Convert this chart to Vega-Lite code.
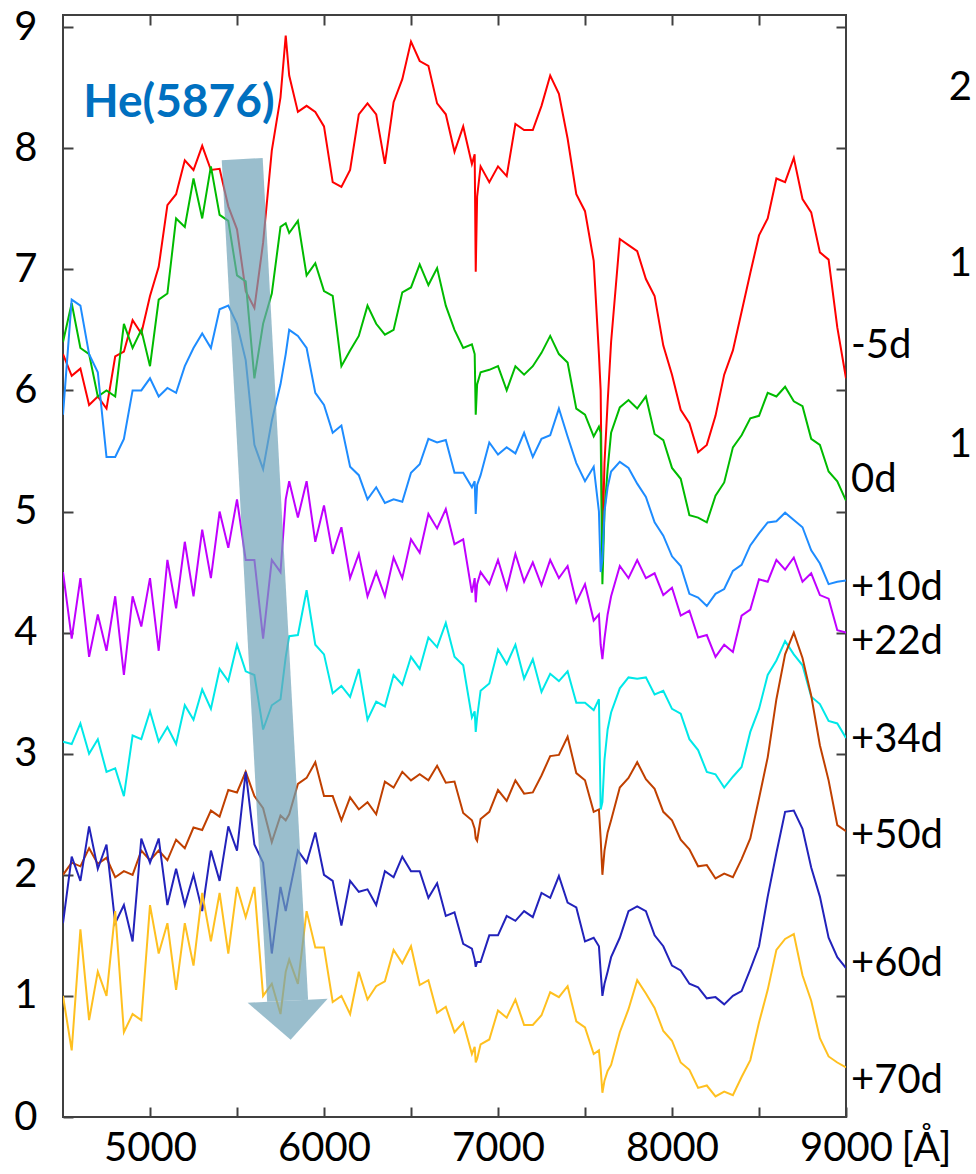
{
  "$schema": "https://vega.github.io/schema/vega-lite/v6.json",
  "width": 783,
  "height": 1102,
  "autosize": "none",
  "padding": {"left": 63, "top": 15, "right": 130, "bottom": 57},
  "background": "white",
  "config": {"view": {"stroke": "#404040", "strokeWidth": 2}, "font": "Lato"},
  "resolve": {"axis": {"x": "independent", "y": "independent"}},
  "datasets": {
    "spec": [
      {"w":4500,"m5":6.30,"d0":6.40,"p10":5.80,"p22":4.50,"p34":3.10,"p50":2.00,"p60":1.60,"p70":1.00},
      {"w":4550,"m5":6.12,"d0":6.72,"p10":6.75,"p22":3.95,"p34":3.08,"p50":2.10,"p60":2.15,"p70":0.55},
      {"w":4600,"m5":6.18,"d0":6.35,"p10":6.70,"p22":4.45,"p34":3.25,"p50":2.07,"p60":1.95,"p70":1.55},
      {"w":4650,"m5":5.88,"d0":6.30,"p10":6.30,"p22":3.80,"p34":3.00,"p50":2.22,"p60":2.40,"p70":0.80},
      {"w":4700,"m5":5.95,"d0":5.95,"p10":6.15,"p22":4.15,"p34":3.12,"p50":2.09,"p60":2.05,"p70":1.20},
      {"w":4750,"m5":5.85,"d0":6.00,"p10":5.45,"p22":3.85,"p34":2.85,"p50":2.14,"p60":2.25,"p70":1.00},
      {"w":4800,"m5":6.28,"d0":5.95,"p10":5.45,"p22":4.30,"p34":2.88,"p50":1.98,"p60":1.60,"p70":1.70},
      {"w":4850,"m5":6.32,"d0":6.55,"p10":5.60,"p22":3.65,"p34":2.65,"p50":2.03,"p60":1.75,"p70":0.70},
      {"w":4900,"m5":6.58,"d0":6.35,"p10":6.00,"p22":4.30,"p34":3.15,"p50":2.00,"p60":1.45,"p70":0.85},
      {"w":4950,"m5":6.47,"d0":6.50,"p10":6.00,"p22":4.05,"p34":3.12,"p50":2.20,"p60":2.30,"p70":0.80},
      {"w":5000,"m5":6.78,"d0":6.20,"p10":6.10,"p22":4.45,"p34":3.35,"p50":2.12,"p60":2.10,"p70":1.75},
      {"w":5050,"m5":7.02,"d0":6.75,"p10":5.95,"p22":3.85,"p34":3.10,"p50":2.20,"p60":2.30,"p70":1.35},
      {"w":5100,"m5":7.53,"d0":6.80,"p10":6.02,"p22":4.60,"p34":3.22,"p50":2.12,"p60":1.75,"p70":1.60},
      {"w":5150,"m5":7.62,"d0":7.42,"p10":5.98,"p22":4.20,"p34":3.08,"p50":2.29,"p60":2.05,"p70":1.05},
      {"w":5200,"m5":7.90,"d0":7.35,"p10":6.20,"p22":4.75,"p34":3.40,"p50":2.22,"p60":1.75,"p70":1.60},
      {"w":5250,"m5":7.82,"d0":7.75,"p10":6.35,"p22":4.30,"p34":3.28,"p50":2.39,"p60":2.00,"p70":1.25},
      {"w":5300,"m5":8.02,"d0":7.42,"p10":6.47,"p22":4.85,"p34":3.53,"p50":2.37,"p60":1.70,"p70":1.85},
      {"w":5350,"m5":7.82,"d0":7.85,"p10":6.35,"p22":4.45,"p34":3.37,"p50":2.53,"p60":2.20,"p70":1.45},
      {"w":5400,"m5":7.83,"d0":7.45,"p10":6.67,"p22":5.00,"p34":3.70,"p50":2.48,"p60":1.95,"p70":1.85},
      {"w":5450,"m5":7.52,"d0":7.40,"p10":6.70,"p22":4.70,"p34":3.60,"p50":2.70,"p60":2.40,"p70":1.35},
      {"w":5500,"m5":7.33,"d0":6.95,"p10":6.55,"p22":5.10,"p34":3.90,"p50":2.68,"p60":2.20,"p70":1.90},
      {"w":5550,"m5":6.82,"d0":6.90,"p10":6.25,"p22":4.60,"p34":3.68,"p50":2.85,"p60":2.85,"p70":1.65},
      {"w":5600,"m5":6.68,"d0":6.10,"p10":5.55,"p22":4.60,"p34":3.65,"p50":2.65,"p60":2.25,"p70":1.90},
      {"w":5650,"m5":7.22,"d0":6.55,"p10":5.35,"p22":3.95,"p34":3.20,"p50":2.55,"p60":2.10,"p70":1.00},
      {"w":5700,"m5":7.98,"d0":6.80,"p10":5.75,"p22":4.60,"p34":3.40,"p50":2.27,"p60":1.35,"p70":1.10},
      {"w":5750,"m5":8.42,"d0":7.35,"p10":6.05,"p22":4.50,"p34":3.45,"p50":2.49,"p60":1.90,"p70":0.85},
      {"w":5780,"m5":8.93,"d0":7.38,"p10":6.30,"p22":5.10,"p34":3.80,"p50":2.45,"p60":1.70,"p70":1.20},
      {"w":5800,"m5":8.60,"d0":7.30,"p10":6.50,"p22":5.25,"p34":3.97,"p50":2.50,"p60":1.85,"p70":1.30},
      {"w":5850,"m5":8.30,"d0":7.40,"p10":6.45,"p22":4.95,"p34":3.98,"p50":2.75,"p60":2.20,"p70":1.10},
      {"w":5900,"m5":8.35,"d0":6.95,"p10":6.35,"p22":5.25,"p34":4.35,"p50":2.80,"p60":2.10,"p70":1.70},
      {"w":5950,"m5":8.30,"d0":7.05,"p10":5.98,"p22":4.75,"p34":3.90,"p50":2.93,"p60":2.35,"p70":1.40},
      {"w":6000,"m5":8.18,"d0":6.82,"p10":5.88,"p22":5.05,"p34":3.82,"p50":2.65,"p60":2.00,"p70":1.40},
      {"w":6050,"m5":7.72,"d0":6.78,"p10":5.65,"p22":4.65,"p34":3.50,"p50":2.65,"p60":1.95,"p70":0.95},
      {"w":6100,"m5":7.68,"d0":6.20,"p10":5.71,"p22":4.87,"p34":3.56,"p50":2.45,"p60":1.58,"p70":1.00},
      {"w":6150,"m5":7.82,"d0":6.33,"p10":5.37,"p22":4.45,"p34":3.47,"p50":2.64,"p60":1.95,"p70":0.85},
      {"w":6200,"m5":8.28,"d0":6.45,"p10":5.30,"p22":4.65,"p34":3.70,"p50":2.54,"p60":1.86,"p70":1.20},
      {"w":6250,"m5":8.37,"d0":6.70,"p10":5.10,"p22":4.30,"p34":3.28,"p50":2.60,"p60":1.88,"p70":0.97},
      {"w":6300,"m5":8.28,"d0":6.55,"p10":5.20,"p22":4.50,"p34":3.43,"p50":2.50,"p60":1.75,"p70":1.08},
      {"w":6350,"m5":7.87,"d0":6.46,"p10":5.07,"p22":4.30,"p34":3.39,"p50":2.77,"p60":2.03,"p70":1.12},
      {"w":6400,"m5":8.38,"d0":6.50,"p10":5.10,"p22":4.62,"p34":3.65,"p50":2.72,"p60":1.98,"p70":1.38},
      {"w":6450,"m5":8.57,"d0":6.81,"p10":5.08,"p22":4.45,"p34":3.57,"p50":2.85,"p60":2.15,"p70":1.27},
      {"w":6500,"m5":8.88,"d0":6.85,"p10":5.32,"p22":4.77,"p34":3.80,"p50":2.78,"p60":2.03,"p70":1.41},
      {"w":6550,"m5":8.72,"d0":7.04,"p10":5.39,"p22":4.66,"p34":3.70,"p50":2.83,"p60":2.03,"p70":1.09},
      {"w":6600,"m5":8.68,"d0":6.87,"p10":5.60,"p22":4.98,"p34":3.96,"p50":2.78,"p60":1.81,"p70":1.13},
      {"w":6650,"m5":8.37,"d0":7.01,"p10":5.57,"p22":4.86,"p34":3.88,"p50":2.90,"p60":1.93,"p70":0.86},
      {"w":6700,"m5":8.28,"d0":6.70,"p10":5.59,"p22":5.02,"p34":4.08,"p50":2.76,"p60":1.66,"p70":0.91},
      {"w":6750,"m5":7.97,"d0":6.50,"p10":5.32,"p22":4.73,"p34":3.80,"p50":2.77,"p60":1.69,"p70":0.70},
      {"w":6800,"m5":8.18,"d0":6.35,"p10":5.32,"p22":4.77,"p34":3.73,"p50":2.51,"p60":1.43,"p70":0.78},
      {"w":6850,"m5":7.87,"d0":6.38,"p10":5.20,"p22":4.33,"p34":3.30,"p50":2.45,"p60":1.39,"p70":0.52},
      {"w":6866,"m5":7.95,"d0":6.30,"p10":5.25,"p22":4.45,"p34":3.35,"p50":2.38,"p60":1.30,"p70":0.58},
      {"w":6872,"m5":6.98,"d0":5.80,"p10":4.98,"p22":4.25,"p34":3.18,"p50":2.30,"p60":1.24,"p70":0.45},
      {"w":6880,"m5":7.60,"d0":6.05,"p10":5.22,"p22":4.40,"p34":3.30,"p50":2.28,"p60":1.28,"p70":0.48},
      {"w":6900,"m5":7.85,"d0":6.15,"p10":5.30,"p22":4.50,"p34":3.52,"p50":2.46,"p60":1.28,"p70":0.60},
      {"w":6950,"m5":7.72,"d0":6.17,"p10":5.57,"p22":4.40,"p34":3.58,"p50":2.52,"p60":1.50,"p70":0.64},
      {"w":7000,"m5":7.85,"d0":6.20,"p10":5.47,"p22":4.60,"p34":3.86,"p50":2.70,"p60":1.50,"p70":0.88},
      {"w":7050,"m5":7.77,"d0":6.00,"p10":5.53,"p22":4.36,"p34":3.74,"p50":2.61,"p60":1.66,"p70":0.82},
      {"w":7100,"m5":8.20,"d0":6.20,"p10":5.48,"p22":4.65,"p34":3.90,"p50":2.78,"p60":1.62,"p70":0.97},
      {"w":7150,"m5":8.15,"d0":6.13,"p10":5.65,"p22":4.42,"p34":3.62,"p50":2.67,"p60":1.70,"p70":0.76},
      {"w":7200,"m5":8.15,"d0":6.20,"p10":5.45,"p22":4.58,"p34":3.78,"p50":2.68,"p60":1.65,"p70":0.76},
      {"w":7250,"m5":8.35,"d0":6.31,"p10":5.60,"p22":4.39,"p34":3.51,"p50":2.82,"p60":1.85,"p70":0.84},
      {"w":7300,"m5":8.60,"d0":6.45,"p10":5.63,"p22":4.60,"p34":3.66,"p50":2.98,"p60":1.81,"p70":1.03},
      {"w":7350,"m5":8.45,"d0":6.30,"p10":5.85,"p22":4.45,"p34":3.60,"p50":2.99,"p60":1.99,"p70":0.99},
      {"w":7400,"m5":8.08,"d0":6.23,"p10":5.62,"p22":4.55,"p34":3.68,"p50":3.14,"p60":1.77,"p70":1.08},
      {"w":7450,"m5":7.62,"d0":5.85,"p10":5.40,"p22":4.25,"p34":3.42,"p50":2.84,"p60":1.73,"p70":0.79},
      {"w":7500,"m5":7.48,"d0":5.80,"p10":5.25,"p22":4.40,"p34":3.42,"p50":2.78,"p60":1.45,"p70":0.74},
      {"w":7550,"m5":7.07,"d0":5.62,"p10":5.37,"p22":4.10,"p34":3.36,"p50":2.52,"p60":1.48,"p70":0.52},
      {"w":7580,"m5":6.30,"d0":5.70,"p10":5.00,"p22":4.15,"p34":3.45,"p50":2.54,"p60":1.41,"p70":0.55},
      {"w":7590,"m5":6.00,"d0":5.65,"p10":4.50,"p22":3.90,"p34":2.54,"p50":2.30,"p60":1.20,"p70":0.40},
      {"w":7600,"m5":4.70,"d0":4.40,"p10":4.60,"p22":3.78,"p34":2.60,"p50":2.00,"p60":1.00,"p70":0.20},
      {"w":7612,"m5":5.40,"d0":5.00,"p10":5.00,"p22":3.95,"p34":2.95,"p50":2.20,"p60":1.10,"p70":0.30},
      {"w":7630,"m5":5.90,"d0":5.35,"p10":5.20,"p22":4.15,"p34":3.20,"p50":2.35,"p60":1.20,"p70":0.38},
      {"w":7650,"m5":6.40,"d0":5.65,"p10":5.33,"p22":4.30,"p34":3.34,"p50":2.45,"p60":1.32,"p70":0.43},
      {"w":7700,"m5":7.25,"d0":5.86,"p10":5.41,"p22":4.55,"p34":3.54,"p50":2.72,"p60":1.48,"p70":0.70},
      {"w":7750,"m5":7.20,"d0":5.92,"p10":5.36,"p22":4.45,"p34":3.63,"p50":2.80,"p60":1.70,"p70":0.89},
      {"w":7800,"m5":7.15,"d0":5.85,"p10":5.23,"p22":4.60,"p34":3.62,"p50":2.93,"p60":1.74,"p70":1.13},
      {"w":7850,"m5":6.92,"d0":5.95,"p10":5.12,"p22":4.45,"p34":3.63,"p50":2.79,"p60":1.70,"p70":1.02},
      {"w":7900,"m5":6.78,"d0":5.64,"p10":4.91,"p22":4.49,"p34":3.49,"p50":2.71,"p60":1.50,"p70":0.90},
      {"w":7950,"m5":6.37,"d0":5.59,"p10":4.80,"p22":4.31,"p34":3.52,"p50":2.52,"p60":1.41,"p70":0.71},
      {"w":8000,"m5":6.13,"d0":5.36,"p10":4.63,"p22":4.37,"p34":3.37,"p50":2.45,"p60":1.25,"p70":0.63},
      {"w":8050,"m5":5.84,"d0":5.27,"p10":4.55,"p22":4.14,"p34":3.33,"p50":2.29,"p60":1.21,"p70":0.45},
      {"w":8100,"m5":5.73,"d0":4.97,"p10":4.32,"p22":4.18,"p34":3.12,"p50":2.21,"p60":1.10,"p70":0.39},
      {"w":8150,"m5":5.49,"d0":4.95,"p10":4.29,"p22":3.96,"p34":3.03,"p50":2.07,"p60":1.07,"p70":0.24},
      {"w":8200,"m5":5.55,"d0":4.91,"p10":4.22,"p22":3.98,"p34":2.85,"p50":2.08,"p60":0.98,"p70":0.26},
      {"w":8250,"m5":5.79,"d0":5.13,"p10":4.32,"p22":3.80,"p34":2.83,"p50":1.97,"p60":0.99,"p70":0.17},
      {"w":8300,"m5":6.13,"d0":5.24,"p10":4.36,"p22":3.90,"p34":2.72,"p50":2.01,"p60":0.93,"p70":0.21},
      {"w":8350,"m5":6.33,"d0":5.53,"p10":4.51,"p22":3.84,"p34":2.81,"p50":1.98,"p60":1.00,"p70":0.18},
      {"w":8400,"m5":6.65,"d0":5.63,"p10":4.56,"p22":4.14,"p34":2.89,"p50":2.13,"p60":1.04,"p70":0.33},
      {"w":8450,"m5":6.97,"d0":5.77,"p10":4.72,"p22":4.19,"p34":3.18,"p50":2.30,"p60":1.22,"p70":0.47},
      {"w":8500,"m5":7.28,"d0":5.79,"p10":4.82,"p22":4.44,"p34":3.37,"p50":2.63,"p60":1.41,"p70":0.78},
      {"w":8550,"m5":7.42,"d0":5.98,"p10":4.91,"p22":4.42,"p34":3.65,"p50":2.97,"p60":1.82,"p70":1.05},
      {"w":8600,"m5":7.75,"d0":5.95,"p10":4.92,"p22":4.60,"p34":3.77,"p50":3.45,"p60":2.18,"p70":1.38},
      {"w":8650,"m5":7.72,"d0":6.03,"p10":4.99,"p22":4.52,"p34":3.93,"p50":3.82,"p60":2.52,"p70":1.47},
      {"w":8700,"m5":7.92,"d0":5.91,"p10":4.93,"p22":4.62,"p34":3.82,"p50":4.00,"p60":2.53,"p70":1.51},
      {"w":8750,"m5":7.58,"d0":5.87,"p10":4.87,"p22":4.42,"p34":3.73,"p50":3.79,"p60":2.38,"p70":1.17},
      {"w":8800,"m5":7.47,"d0":5.60,"p10":4.68,"p22":4.49,"p34":3.47,"p50":3.48,"p60":2.06,"p70":0.96},
      {"w":8850,"m5":7.14,"d0":5.55,"p10":4.57,"p22":4.31,"p34":3.41,"p50":3.07,"p60":1.82,"p70":0.65},
      {"w":8900,"m5":7.08,"d0":5.33,"p10":4.40,"p22":4.28,"p34":3.27,"p50":2.78,"p60":1.48,"p70":0.50},
      {"w":8950,"m5":6.52,"d0":5.25,"p10":4.42,"p22":4.02,"p34":3.25,"p50":2.41,"p60":1.32,"p70":0.45},
      {"w":9000,"m5":6.10,"d0":5.09,"p10":4.43,"p22":4.00,"p34":3.13,"p50":2.36,"p60":1.23,"p70":0.41}
    ],
    "arrow": [{"x": 5530, "y": 7.91, "x2": 5791, "y2": 0.96}],
    "head": [{"x": 5791, "y": 0.96}],
    "title": [{"t": "He(5876)", "x": 5166, "y": 8.37}],
    "labels": [
      {"t": "-5d", "y": 6.37},
      {"t": "0d", "y": 5.26},
      {"t": "+10d", "y": 4.37},
      {"t": "+22d", "y": 3.92},
      {"t": "+34d", "y": 3.11},
      {"t": "+50d", "y": 2.32},
      {"t": "+60d", "y": 1.26},
      {"t": "+70d", "y": 0.30}
    ],
    "cut": [
      {"t": "2", "y": 8.5},
      {"t": "1", "y": 7.04},
      {"t": "1", "y": 5.55}
    ]
  },
  "layer": [
    {
      "data": {"name": "spec"},
      "transform": [{"fold": ["m5", "d0", "p10", "p22", "p34", "p50", "p60", "p70"], "as": ["key", "val"]}],
      "mark": {"type": "line", "strokeWidth": 2, "clip": true},
      "encoding": {
        "x": {
          "field": "w", "type": "quantitative",
          "scale": {"domain": [4500, 9000], "nice": false, "zero": false},
          "axis": {
            "orient": "bottom",
            "values": [5000, 5500, 6000, 6500, 7000, 7500, 8000, 8500, 9000],
            "format": "d",
            "labelExpr": "datum.value % 1000 == 0 ? datum.label : ''",
            "tickSize": -10, "tickWidth": 2, "tickColor": "#404040",
            "domain": false, "grid": false,
            "labelFont": "Lato", "labelFontSize": 40, "labelColor": "black",
            "labelPadding": 21, "labelFlush": false, "labelOverlap": false, "labelBound": false,
            "title": "[Å]", "titleFont": "Lato", "titleFontSize": 40, "titleFontWeight": "normal",
            "titleColor": "black", "titleX": 863, "titleY": 43, "titleAlign": "center", "titleBaseline": "alphabetic"
          }
        },
        "y": {
          "field": "val", "type": "quantitative",
          "scale": {"domain": [0, 9.1], "nice": false, "zero": false},
          "axis": {
            "orient": "left",
            "values": [0, 1, 2, 3, 4, 5, 6, 7, 8, 9],
            "tickSize": -10, "tickWidth": 2, "tickColor": "#404040",
            "domain": false, "grid": false,
            "labelFont": "Lato", "labelFontSize": 40, "labelColor": "black",
            "labelPadding": 36, "labelFlush": false, "labelOverlap": false, "labelBound": false,
            "title": null
          }
        },
        "color": {
          "field": "key", "type": "nominal",
          "scale": {
            "domain": ["m5", "d0", "p10", "p22", "p34", "p50", "p60", "p70"],
            "range": ["#FF0000", "#00BB00", "#1E8CFF", "#C000FF", "#00E8E8", "#C04000", "#2222BB", "#FFC020"]
          },
          "legend": null
        }
      }
    },
    {
      "data": {"name": "arrow"},
      "mark": {"type": "rule", "strokeWidth": 41, "strokeCap": "butt", "color": "#6FA3B8", "opacity": 0.7},
      "encoding": {
        "x": {
          "field": "x", "type": "quantitative",
          "axis": {
            "orient": "top",
            "values": [5000, 5500, 6000, 6500, 7000, 7500, 8000, 8500],
            "labels": false, "tickSize": -10, "tickWidth": 2, "tickColor": "#404040",
            "domain": false, "grid": false, "title": null
          }
        },
        "y": {
          "field": "y", "type": "quantitative",
          "axis": {
            "orient": "right",
            "values": [1, 2, 3, 4, 5, 6, 7, 8, 9],
            "labels": false, "tickSize": -10, "tickWidth": 2, "tickColor": "#404040",
            "domain": false, "grid": false, "title": null
          }
        },
        "x2": {"field": "x2"},
        "y2": {"field": "y2"}
      }
    },
    {
      "data": {"name": "head"},
      "mark": {"type": "point", "shape": "M -1 0.05 L 1 -0.05 L 0.075 0.975 Z", "size": 6400, "filled": true, "color": "#6FA3B8", "opacity": 0.7, "strokeWidth": 0},
      "encoding": {
        "x": {"field": "x", "type": "quantitative", "axis": null},
        "y": {"field": "y", "type": "quantitative", "axis": null}
      }
    },
    {
      "data": {"name": "title"},
      "mark": {"type": "text", "font": "Lato", "fontSize": 46, "fontWeight": "bold", "color": "#0070C0", "align": "center", "baseline": "middle"},
      "encoding": {
        "x": {"field": "x", "type": "quantitative", "axis": null},
        "y": {"field": "y", "type": "quantitative", "axis": null},
        "text": {"field": "t"}
      }
    },
    {
      "data": {"name": "labels"},
      "mark": {"type": "text", "font": "Lato", "fontSize": 40, "color": "black", "align": "left", "baseline": "middle", "dx": 5},
      "encoding": {
        "x": {"datum": 9000, "type": "quantitative", "axis": null},
        "y": {"field": "y", "type": "quantitative", "axis": null},
        "text": {"field": "t"}
      }
    },
    {
      "data": {"name": "cut"},
      "mark": {"type": "text", "font": "Lato", "fontSize": 40, "color": "black", "align": "left", "baseline": "middle"},
      "encoding": {
        "x": {"datum": 9590, "type": "quantitative", "axis": null},
        "y": {"field": "y", "type": "quantitative", "axis": null},
        "text": {"field": "t"}
      }
    }
  ]
}
